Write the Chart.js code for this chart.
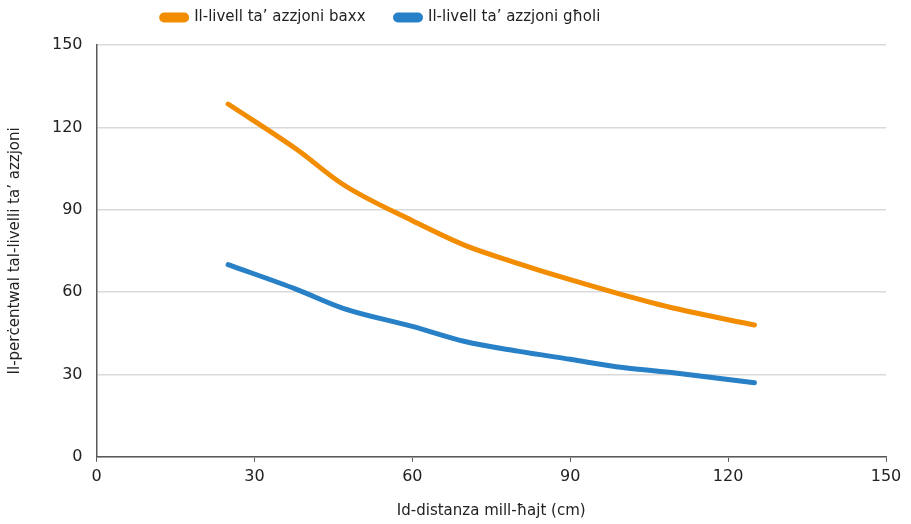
<!DOCTYPE html>
<html>
<head>
<meta charset="utf-8">
<script src="https://cdn.jsdelivr.net/npm/chart.js@4/dist/chart.umd.min.js"></script>
<style>
  html, body { margin: 0; padding: 0; background: #fff; }
  #wrap { width: 911px; height: 524px; }
</style>
</head>
<body>
<div id="wrap"><canvas id="myChart"></canvas></div>
<script>
"use strict";

// distance from the wall (cm)
const distances = [25, 38, 47, 60, 70, 80, 90, 100, 110, 125];
const lowAction = [128.5, 112, 99, 86, 77, 70.5, 64.5, 59, 54, 48];
const highAction = [70, 61, 54, 47.5, 42, 38.5, 35.5, 32.5, 30.5, 27];
const axisTicks = [0, 30, 60, 90, 120, 150];

const orange = 'rgb(242, 140, 0)';
const blue = 'rgb(40, 128, 198)';

const ctx = document.getElementById('myChart');

function toPoints (values) {
    return distances.map((d, i) => ({ x: d, y: values[i] }));
}

// fixed legend height so the plot starts at the same place every time,
// and the legend row sits a bit left of centre
const legendPlacement = {
    id: 'legendPlacement',
    beforeInit (chart) {
        const fit = chart.legend.fit;
        chart.legend.fit = function () {
            fit.bind(chart.legend)();
            this.height = 65;
        };
    },
    afterUpdate (chart) {
        chart.legend.right -= 130;
        chart.legend.adjustHitBoxes();
    }
};

Chart.defaults.font.family = "'DejaVu Sans', sans-serif";
Chart.defaults.font.size = 15;
Chart.defaults.color = '#222';

new Chart(ctx, {
    type: 'line',
    data: {
        datasets: [{
            label: 'Il-livell ta’ azzjoni baxx',
            data: toPoints(lowAction),
            borderColor: orange,
            backgroundColor: orange,
            borderWidth: 5,
            borderCapStyle: 'round',
            pointRadius: 0,
            cubicInterpolationMode: 'monotone'
        }, {
            label: 'Il-livell ta’ azzjoni għoli',
            data: toPoints(highAction),
            borderColor: blue,
            backgroundColor: blue,
            borderWidth: 5,
            borderCapStyle: 'round',
            pointRadius: 0,
            cubicInterpolationMode: 'monotone'
        }]
    },
    plugins: [legendPlacement],
    options: {
        responsive: true,
        maintainAspectRatio: false,
        animation: false,
        layout: { padding: { top: -20, right: 25, bottom: 4, left: 6 } },
        plugins: {
            legend: {
                position: 'top',
                labels: {
                    boxWidth: 25,
                    boxHeight: 5,
                    useBorderRadius: true,
                    borderRadius: 2.5,
                    padding: 30,
                    color: '#222'
                }
            },
            tooltip: { enabled: false }
        },
        scales: {
            x: {
                type: 'linear',
                min: 0,
                max: 150,
                afterBuildTicks: axis => { axis.ticks = axisTicks.map(v => ({ value: v })); },
                grid: { drawOnChartArea: false, drawTicks: true, tickLength: 5, color: '#595959' },
                border: { color: '#595959', width: 1.5 },
                ticks: { padding: 5, font: { size: 16 } },
                title: { display: true, text: 'Id-distanza mill-ħajt (cm)', padding: { top: 11, bottom: 0 } }
            },
            y: {
                min: 0,
                max: 150,
                afterBuildTicks: axis => { axis.ticks = axisTicks.map(v => ({ value: v })); },
                grid: { color: '#d9d9d9', lineWidth: 1.5, drawTicks: false },
                border: { color: '#595959', width: 1.5 },
                ticks: { padding: 14, font: { size: 16 } },
                title: { display: true, text: 'Il-perċentwal tal-livelli ta’ azzjoni', padding: { top: 0, bottom: 14 } }
            }
        }
    }
});
</script>
</body>
</html>
